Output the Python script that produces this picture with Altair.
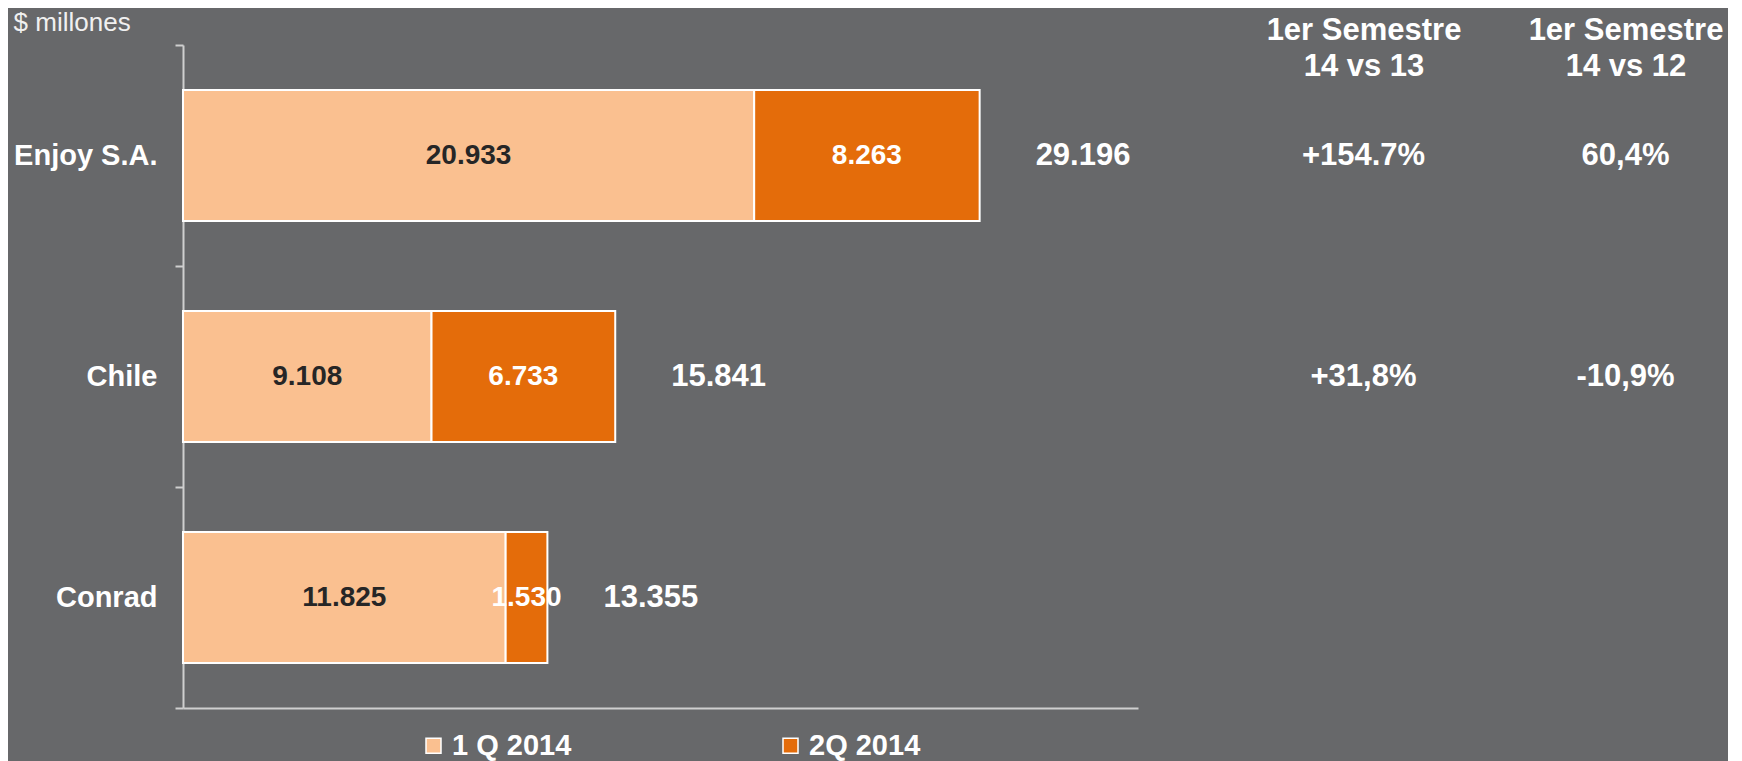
import altair as alt
import pandas as pd

# ---- data ----
categories = ["Enjoy S.A.", "Chile", "Conrad"]
series = ["1 Q 2014", "2Q 2014"]
q1_values = [20933, 9108, 11825]
q2_values = [8263, 6733, 1530]
compare_columns = ["1er Semestre|14 vs 13", "1er Semestre|14 vs 12"]
compare_14_vs_13 = ["+154.7%", "+31,8%", None]
compare_14_vs_12 = ["60,4%", "-10,9%", None]
unit_title = "$ millones"

# ---- tables built from the lists ----
rows = []
for i, c in enumerate(categories):
    rows.append({"cat": c, "series": series[0], "order": 0, "value": q1_values[i]})
    rows.append({"cat": c, "series": series[1], "order": 1, "value": q2_values[i]})
bars_df = pd.DataFrame(rows)

table_rows = []
for i, c in enumerate(categories):
    for col, vals in zip(compare_columns, [compare_14_vs_13, compare_14_vs_12]):
        if vals[i] is not None:
            table_rows.append({"cat": c, "col": col, "txt": vals[i]})
table_df = pd.DataFrame(table_rows)

FONT = "Liberation Sans"
BG = "#67686a"
AXIS_COL = "#cfcfcf"
LIGHT = "#fac090"
DARK = "#e46c0a"

x_scale = alt.Scale(domain=[0, 35000], nice=False, zero=True)
x_axis = alt.Axis(domain=True, ticks=False, labels=False, grid=False, title=None,
                  domainColor=AXIS_COL, domainWidth=2)
y_scale = alt.Scale(domain=categories, paddingInner=0, paddingOuter=0)
y_axis = alt.Axis(title=None, grid=False, domainColor=AXIS_COL, domainWidth=2,
                  tickColor=AXIS_COL, tickWidth=2, tickSize=8, tickBand="extent",
                  labelFont=FONT, labelFontSize=29, labelFontWeight="bold",
                  labelColor="white", labelPadding=18, labelLimit=400)
y_enc = alt.Y("cat:N", sort=categories, scale=y_scale, axis=y_axis)

fmt = "replace(format(datum.v, ','), ',', '.')"

base = alt.Chart(bars_df).transform_stack(
    stack="value", groupby=["cat"], as_=["v0", "v1"],
    sort=[alt.SortField(field="order", order="ascending")]
).transform_calculate(mid="(datum.v0 + datum.v1) / 2", v="datum.value").transform_calculate(lbl=fmt)

bars = base.mark_bar(height={"band": 0.593}, stroke="white", strokeWidth=2).encode(
    x=alt.X("v0:Q", scale=x_scale, axis=x_axis),
    x2="v1:Q",
    y=y_enc,
    color=alt.Color("series:N", scale=alt.Scale(domain=series, range=[LIGHT, DARK]),
                    legend=alt.Legend(orient="none", legendX=236, legendY=686,
                                      direction="horizontal", title=None,
                                      symbolType="square", symbolSize=225,
                                      symbolStrokeColor="white", symbolStrokeWidth=1.5,
                                      symbolOpacity=1,
                                      labelFont=FONT, labelFontSize=29, labelFontWeight="bold",
                                      labelColor="white", labelOffset=4, columnPadding=204,
                                      padding=0, labelLimit=400)),
)

seg_text = base.mark_text(font=FONT, fontSize=28, fontWeight="bold", baseline="middle").encode(
    x=alt.X("mid:Q", scale=x_scale, axis=x_axis),
    y=y_enc,
    text="lbl:N",
    color=alt.condition("datum.series === '1 Q 2014'", alt.value("#262626"), alt.value("white")),
)

totals = alt.Chart(bars_df).transform_aggregate(
    v="sum(value)", groupby=["cat"]
).transform_calculate(lbl=fmt).mark_text(
    font=FONT, fontSize=31, fontWeight="bold", color="white", align="left", dx=56, baseline="middle"
).encode(
    x=alt.X("v:Q", scale=x_scale, axis=x_axis),
    y=y_enc,
    text="lbl:N",
)

left = alt.layer(bars, seg_text, totals).properties(
    width=955, height=663,
    title=alt.TitleParams(unit_title, anchor="start", frame="bounds", fontSize=26,
                          fontWeight="normal", color="#f0f0f0", font=FONT, offset=-5),
)

right = alt.Chart(table_df).mark_text(
    font=FONT, fontSize=31, fontWeight="bold", color="white", baseline="middle"
).encode(
    x=alt.X("col:N", sort=compare_columns,
            scale=alt.Scale(type="point", domain=compare_columns, padding=0.25),
            axis=alt.Axis(orient="top", domain=False, ticks=False, tickSize=0, grid=False,
                          title=None, labelAngle=0,
                          labelExpr="split(datum.label, '|')",
                          labelFont=FONT, labelFontSize=31, labelFontWeight="bold",
                          labelColor="white", labelLineHeight=36, labelBaseline="middle",
                          labelLimit=400, labelPadding=0, offset=15)),
    y=alt.Y("cat:N", sort=categories, scale=y_scale, axis=None),
    text="txt:N",
).properties(width=393, height=663)

chart = alt.hconcat(
    left, right, spacing=160, bounds="flush",
    padding={"top": 2, "left": 5, "right": 5, "bottom": 0},
).configure(
    background=BG, font=FONT
).configure_view(stroke=None)

chart.save("out.html", embed_options={"renderer": "svg", "actions": False})
